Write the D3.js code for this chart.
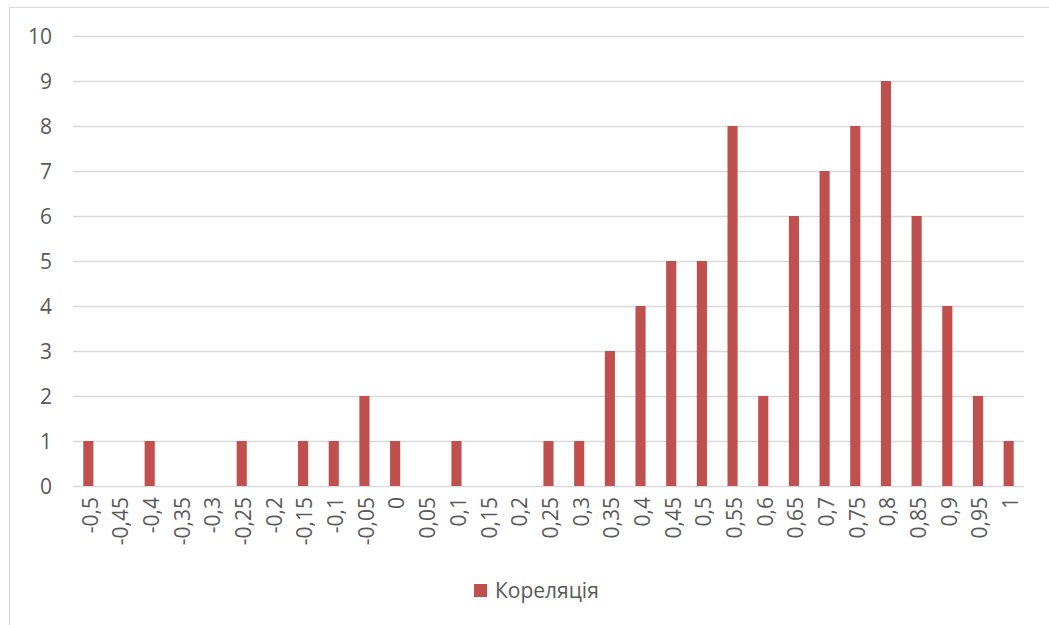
<!DOCTYPE html>
<html>
<head>
<meta charset="utf-8">
<script src="https://cdn.jsdelivr.net/npm/d3@7"></script>
<style>
  html, body { margin: 0; padding: 0; background: #fff; }
  svg { display: block; }
</style>
</head>
<body>
<svg id="chart" width="1049" height="625"></svg>
<script>
// Correlation histogram: number of cases per correlation bin
const categories = ["-0,5","-0,45","-0,4","-0,35","-0,3","-0,25","-0,2","-0,15","-0,1","-0,05",
  "0","0,05","0,1","0,15","0,2","0,25","0,3","0,35","0,4","0,45","0,5","0,55","0,6","0,65",
  "0,7","0,75","0,8","0,85","0,9","0,95","1"];
const counts = [1,0,1,0,0,1,0,1,1,2,
  1,0,1,0,0,1,1,3,4,5,5,8,2,6,
  7,8,9,6,4,2,1];
const yTicks = [0,1,2,3,4,5,6,7,8,9,10];
const seriesName = "Кореляція";

const barColor = "#C0504D";
const textColor = "#595959";
const gridColor = "#D9D9D9";
const font = "'Open Sans', 'Liberation Sans', sans-serif";
const fontSize = "21px";

const svg = d3.select("#chart");

// chart frame
svg.append("rect")
  .attr("x", 9.5).attr("y", 7.5)
  .attr("width", 1100).attr("height", 700)
  .attr("fill", "#fff").attr("stroke", gridColor).attr("stroke-width", 1);

const plot = { left: 73, right: 1024, top: 36, bottom: 486 };

const x = d3.scaleBand()
  .domain(categories)
  .range([plot.left, plot.right])
  .paddingInner(0.67)
  .paddingOuter(0.335);

const y = d3.scaleLinear().domain([0, 10]).range([plot.bottom, plot.top]);

// gridlines
svg.append("g")
  .selectAll("line")
  .data(yTicks)
  .join("line")
  .attr("x1", plot.left).attr("x2", plot.right)
  .attr("y1", d => Math.round(y(d)) + 0.5).attr("y2", d => Math.round(y(d)) + 0.5)
  .attr("stroke", gridColor).attr("stroke-width", 1.3);

// y-axis labels
const yAxis = svg.append("g")
  .attr("transform", `translate(${plot.left - 21},0)`)
  .call(d3.axisLeft(y).tickValues(yTicks).tickSize(0).tickPadding(0));
yAxis.select(".domain").remove();
yAxis.selectAll("text")
  .attr("fill", textColor)
  .style("font-family", font)
  .style("font-size", fontSize)
  .attr("dy", "0.35em");

// bars
svg.append("g")
  .selectAll("rect")
  .data(categories.map((c, i) => ({ c, v: counts[i] })))
  .join("rect")
  .attr("x", d => x(d.c))
  .attr("width", x.bandwidth())
  .attr("y", d => y(d.v))
  .attr("height", d => y(0) - y(d.v))
  .attr("fill", barColor);

// x-axis labels, rotated
const xAxis = svg.append("g")
  .attr("transform", `translate(0,${plot.bottom})`)
  .call(d3.axisBottom(x).tickSize(0).tickPadding(0));
xAxis.select(".domain").remove();
xAxis.selectAll("text")
  .attr("fill", textColor)
  .style("font-family", font)
  .style("font-size", fontSize)
  .attr("text-anchor", "end")
  .attr("transform", "translate(2,11) rotate(-90)")
  .attr("x", 0).attr("y", 0)
  .attr("dy", "0.35em");

// legend
const legend = svg.append("g").attr("transform", "translate(474,584)");
legend.append("rect")
  .attr("width", 13).attr("height", 13)
  .attr("fill", barColor);
legend.append("text")
  .attr("x", 21).attr("y", 14)
  .attr("fill", textColor)
  .style("font-family", font)
  .style("font-size", fontSize)
  .text(seriesName);
</script>
</body>
</html>
